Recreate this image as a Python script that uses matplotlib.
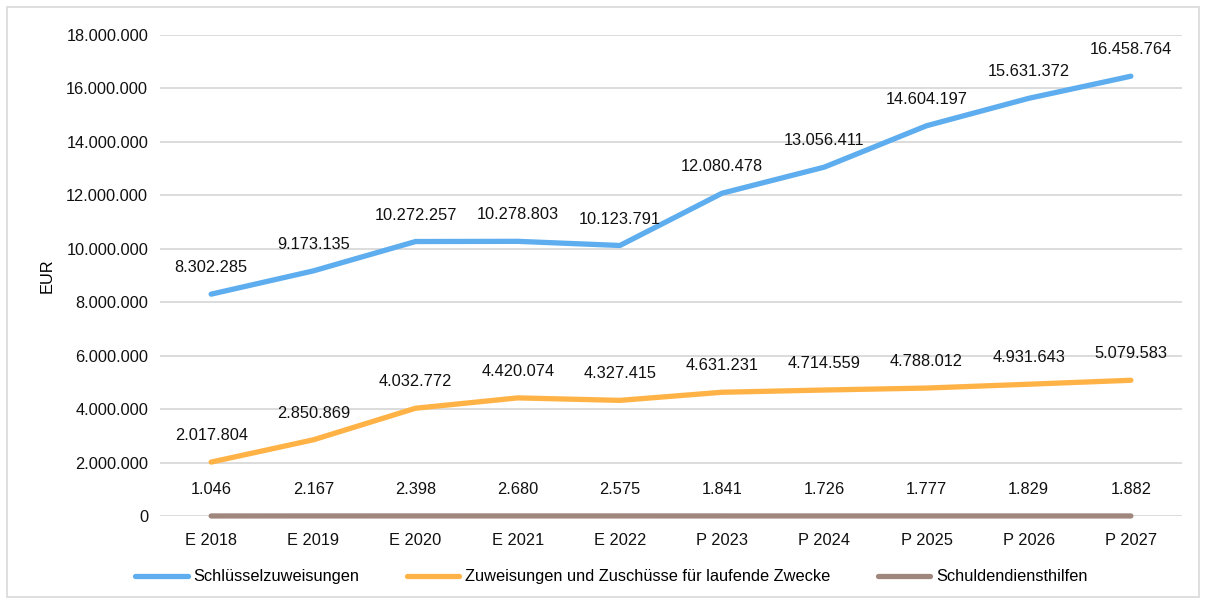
import matplotlib.pyplot as plt
from matplotlib.patches import Rectangle
from matplotlib.ticker import FuncFormatter

plt.rcParams['font.family'] = ['Liberation Sans', 'DejaVu Sans']

years = ['E 2018', 'E 2019', 'E 2020', 'E 2021', 'E 2022',
         'P 2023', 'P 2024', 'P 2025', 'P 2026', 'P 2027']
schluessel = [8302285, 9173135, 10272257, 10278803, 10123791,
              12080478, 13056411, 14604197, 15631372, 16458764]
zuweisungen = [2017804, 2850869, 4032772, 4420074, 4327415,
               4631231, 4714559, 4788012, 4931643, 5079583]
schulden = [1046, 2167, 2398, 2680, 2575, 1841, 1726, 1777, 1829, 1882]

series = [
    ('Schlüsselzuweisungen', schluessel, '#5DADEF'),
    ('Zuweisungen und Zuschüsse für laufende Zwecke', zuweisungen, '#FFB347'),
    ('Schuldendiensthilfen', schulden, '#A0877E'),
]


def dots(v):
    return f"{int(round(v)):,}".replace(',', '.')


fig = plt.figure(figsize=(12.06, 6.04), dpi=100)
ax = fig.add_axes([0.1327, 0.1457, 0.8474, 0.7963])
fig.patches.append(Rectangle((0.006, 0.012), 0.988, 0.976, transform=fig.transFigure,
                             fill=False, edgecolor='#D9D9D9', lw=1.2))

fs = 11.8
x = range(len(years))
for name, vals, col in series:
    ax.plot(x, vals, color=col, lw=3.8, solid_capstyle='round', label=name,
            zorder=3, clip_on=False)
    for xi, v in zip(x, vals):
        ax.annotate(dots(v), (xi, v), xytext=(0, 19), textcoords='offset points',
                    ha='center', va='center', fontsize=fs, color='#111111')

ax.set_xlim(-0.5, len(years) - 0.5)
ax.set_ylim(0, 18000000)
ax.set_yticks(range(0, 18000001, 2000000))
ax.yaxis.set_major_formatter(FuncFormatter(lambda v, p: dots(v)))
ax.set_xticks(list(x))
ax.set_xticklabels(years)
ax.grid(axis='y', color='#D9D9D9', lw=1.3)
ax.set_axisbelow(True)
for s in ax.spines.values():
    s.set_visible(False)
ax.tick_params(length=0, labelsize=fs, colors='#111111', pad=12)
ax.tick_params(axis='y', pad=8.5)
ax.set_ylabel('EUR', fontsize=fs, labelpad=8)

fig.legend(loc='center', bbox_to_anchor=(0.507, 0.045), ncol=3, frameon=False,
           fontsize=fs, handlelength=3.2, columnspacing=2.9, handletextpad=0.35)

fig.savefig('out.png', dpi=100)
